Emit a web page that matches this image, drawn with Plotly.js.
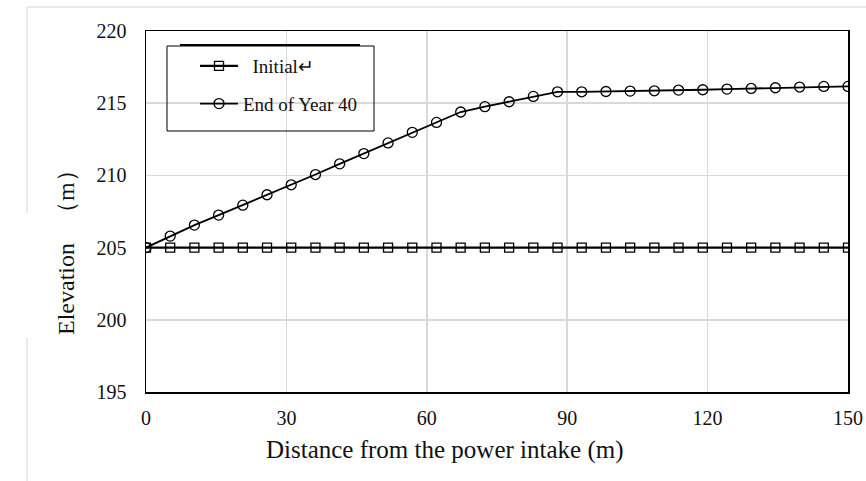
<!DOCTYPE html>
<html>
<head>
<meta charset="utf-8">
<script src="https://cdn.plot.ly/plotly-3.0.1.min.js"></script>
<style>html,body{margin:0;padding:0;background:#fff;}#chart{width:866px;height:481px;}</style>
</head>
<body>
<div id="chart"></div>
<script>
// Data
var distance = [0, 5.17, 10.34, 15.52, 20.69, 25.86, 31.03, 36.21, 41.38, 46.55,
  51.72, 56.90, 62.07, 67.24, 72.41, 77.59, 82.76, 87.93, 93.10, 98.28,
  103.45, 108.62, 113.79, 118.97, 124.14, 129.31, 134.48, 139.66, 144.83, 150];
var initialElev = [205, 205, 205, 205, 205, 205, 205, 205, 205, 205,
  205, 205, 205, 205, 205, 205, 205, 205, 205, 205,
  205, 205, 205, 205, 205, 205, 205, 205, 205, 205];
var year40Elev = [205.0, 205.80, 206.56, 207.25, 207.94, 208.66, 209.35, 210.06, 210.80, 211.51,
  212.25, 212.98, 213.67, 214.39, 214.76, 215.10, 215.47, 215.79, 215.79, 215.81,
  215.84, 215.86, 215.91, 215.93, 215.98, 216.02, 216.07, 216.12, 216.16, 216.16];
var seriesNames = ["\u00A0\u00A0Initial\u21B5", "End of Year 40"];
var xTicks = [0, 30, 60, 90, 120, 150];
var yTicks = [195, 200, 205, 210, 215, 220];
var xTitle = "Distance from the power intake (m)";
var yTitle = "Elevation \u2002\uFF08m\uFF09";

var serif = "'Liberation Serif', 'Times New Roman', serif";

var traces = [
  {
    x: distance, y: initialElev, name: seriesNames[0], type: 'scatter', mode: 'lines+markers',
    line: {color: '#000', width: 2.2},
    marker: {symbol: 'square-open', size: 9, color: '#000', line: {width: 1.3, color: '#000'}},
    legendgroup: 'a'
  },
  {
    x: distance, y: year40Elev, name: seriesNames[1], type: 'scatter', mode: 'lines+markers',
    line: {color: '#000', width: 1.8},
    marker: {symbol: 'circle-open', size: 10, color: '#000', line: {width: 1.3, color: '#000'}},
    legendgroup: 'b'
  }
];

var W = 702, H = 361, L = 146, T = 31;
function px(xp){ return (xp - L) / W; }
function py(yp){ return (T + H - yp) / H; }

var layout = {
  width: 866, height: 481,
  margin: {l: 146, r: 18, t: 31, b: 89},
  paper_bgcolor: '#fff', plot_bgcolor: '#fff',
  font: {family: serif, color: '#111', size: 15},
  showlegend: true,
  legend: {
    x: px(195), y: py(47), xanchor: 'left', yanchor: 'top',
    bgcolor: 'rgba(0,0,0,0)', borderwidth: 0,
    font: {family: serif, size: 19, color: '#111'},
    tracegroupgap: 10, traceorder: 'grouped', itemwidth: 38
  },
  xaxis: {
    range: [0, 150], tickvals: xTicks, ticktext: xTicks.map(String),
    showgrid: true, gridcolor: '#d9d9d9', gridwidth: 1.5,
    showline: true, linecolor: '#000', linewidth: 1.5, mirror: true,
    zeroline: false, ticks: '', ticklabelstandoff: 7,
    tickfont: {family: serif, size: 20, color: '#111'}
  },
  yaxis: {
    range: [195, 220], tickvals: yTicks, ticktext: yTicks.map(String),
    showgrid: true, gridcolor: '#d9d9d9', gridwidth: 1.5,
    showline: true, linecolor: '#000', linewidth: 1.5, mirror: true,
    zeroline: false, ticks: '', ticklabelstandoff: 14,
    tickfont: {family: serif, size: 20, color: '#111'}
  },
  annotations: [
    {text: xTitle, xref: 'paper', yref: 'paper', x: px(445), y: py(450),
     xanchor: 'center', yanchor: 'middle', showarrow: false,
     font: {family: serif, size: 25, color: '#111'}},
    {text: yTitle, xref: 'paper', yref: 'paper', x: px(66), y: py(247),
     xanchor: 'center', yanchor: 'middle', showarrow: false, textangle: -90,
     font: {family: serif, size: 24, color: '#111'}}
  ],
  shapes: [
    // legend box
    {type: 'rect', xref: 'paper', yref: 'paper', x0: px(167), x1: px(374), y0: py(46), y1: py(131),
     line: {color: '#000', width: 1}, fillcolor: 'rgba(0,0,0,0)'},
    {type: 'line', xref: 'paper', yref: 'paper', x0: px(180), x1: px(360), y0: py(45), y1: py(45),
     line: {color: '#000', width: 2}},
    // outer page frame (light grey)
    {type: 'line', xref: 'paper', yref: 'paper', x0: px(27), x1: px(866), y0: py(7), y1: py(7),
     line: {color: '#e3e3e3', width: 1.5}},
    {type: 'line', xref: 'paper', yref: 'paper', x0: px(27), x1: px(27), y0: py(7), y1: py(213),
     line: {color: '#e3e3e3', width: 1.5}},
    {type: 'line', xref: 'paper', yref: 'paper', x0: px(27), x1: px(27), y0: py(338), y1: py(481),
     line: {color: '#e3e3e3', width: 1.5}}
  ]
};

Plotly.newPlot('chart', traces, layout, {displayModeBar: false, staticPlot: true});
</script>
</body>
</html>
